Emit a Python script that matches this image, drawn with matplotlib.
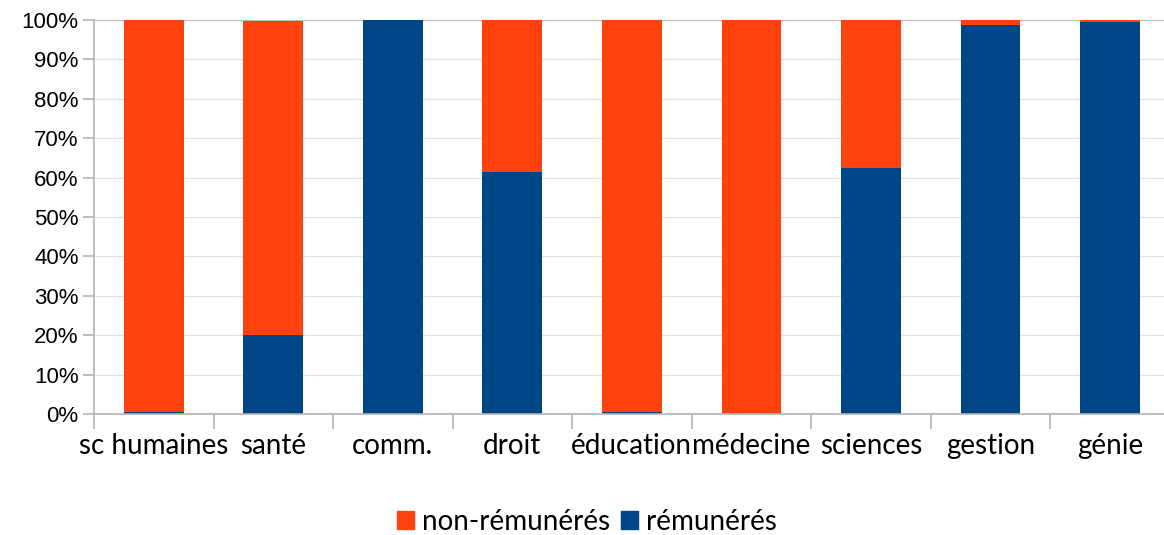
import matplotlib.pyplot as plt
from matplotlib.patches import Patch

categories = ['sc humaines', 'santé', 'comm.', 'droit', 'éducation',
              'médecine', 'sciences', 'gestion', 'génie']
remuneres = [0.5, 20.0, 100.0, 61.5, 0.5, 0.0, 62.5, 98.7, 99.6]
non_remuneres = [99.5, 79.7, 0.0, 38.5, 99.5, 100.0, 37.5, 1.3, 0.4]
yticks = [0, 10, 20, 30, 40, 50, 60, 70, 80, 90, 100]

BLUE = '#004586'
ORANGE = '#FF420E'
GREY = '#b3b3b3'

fig = plt.figure(figsize=(11.64, 5.35), dpi=100)
ax = fig.add_axes([94 / 1164, 121 / 535, 1075.75 / 1164, 394 / 535])

x = range(len(categories))
ax.bar(x, remuneres, width=0.5, color=BLUE, label='rémunérés', zorder=2)
ax.bar(x, non_remuneres, width=0.5, bottom=remuneres, color=ORANGE,
       label='non-rémunérés', zorder=2)

ax.set_xlim(-0.5, len(categories) - 0.5)
ax.set_ylim(0, 100)
ax.set_yticks(yticks)
ax.set_yticklabels(['%d%%' % v for v in yticks], family='Liberation Sans',
                   fontsize=16)
ax.yaxis.grid(True, color='#e2e2e2', lw=0.9, zorder=0)
ax.set_axisbelow(True)
ax.axhline(100, color=GREY, lw=1.2, zorder=1)

ax.set_xticks([i - 0.5 for i in range(len(categories) + 1)], minor=False)
ax.set_xticklabels([])
ax.set_xticks(list(x), minor=True)
ax.set_xticklabels(categories, minor=True, family='Lato', fontsize=20)
ax.tick_params(axis='x', which='major', length=11, color=GREY, width=1.2)
ax.tick_params(axis='x', which='minor', length=0, pad=14)
ax.tick_params(axis='y', length=8, color=GREY, width=1.2, pad=3)

for side in ['top', 'right']:
    ax.spines[side].set_visible(False)
for side in ['left', 'bottom']:
    ax.spines[side].set_color(GREY)
    ax.spines[side].set_linewidth(1.2)

handles = [Patch(color=ORANGE, label='non-rémunérés'),
           Patch(color=BLUE, label='rémunérés')]
fig.legend(handles=handles, loc='center', bbox_to_anchor=(587 / 1164, 1 - 522 / 535),
           ncol=2, frameon=False, prop={'family': 'Lato', 'size': 20},
           handlelength=0.6, handleheight=0.6, handletextpad=0.3,
           columnspacing=0.4)

fig.savefig('out.png', dpi=100)
